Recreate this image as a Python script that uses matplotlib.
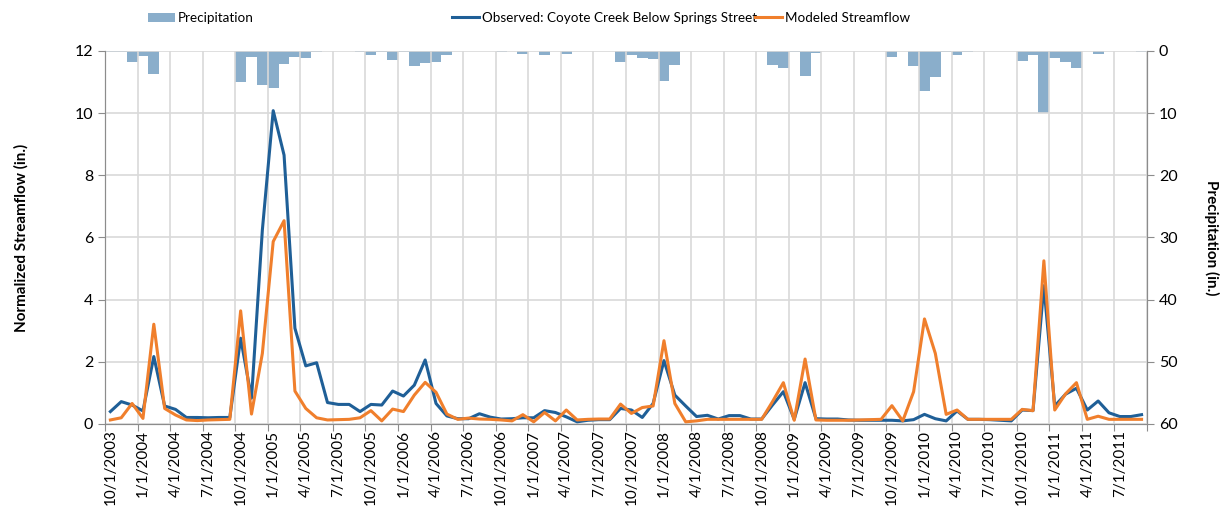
import numpy as np
import matplotlib
matplotlib.use('Agg')
import matplotlib.pyplot as plt
from matplotlib.patches import Patch
from matplotlib.lines import Line2D

plt.rcParams['font.family'] = ['Lato', 'DejaVu Sans']

#monthly values, 10/2003 - 9/2011
observed = [0.40, 0.72, 0.61, 0.42, 2.17, 0.58, 0.47, 0.21, 0.21, 0.20, 0.21, 0.21,
            2.76, 0.83, 6.24, 10.08, 8.65, 3.08, 1.87, 1.97, 0.69, 0.63, 0.63, 0.40,
            0.63, 0.61, 1.06, 0.90, 1.25, 2.06, 0.66, 0.26, 0.17, 0.17, 0.33, 0.22,
            0.16, 0.17, 0.20, 0.20, 0.43, 0.37, 0.23, 0.07, 0.12, 0.14, 0.14, 0.50,
            0.45, 0.21, 0.66, 2.04, 0.93, 0.58, 0.24, 0.28, 0.16, 0.27, 0.27, 0.16,
            0.16, 0.61, 1.04, 0.15, 1.33, 0.17, 0.16, 0.16, 0.13, 0.12, 0.12, 0.12,
            0.12, 0.10, 0.14, 0.31, 0.17, 0.10, 0.42, 0.15, 0.15, 0.14, 0.12, 0.10,
            0.45, 0.43, 4.45, 0.58, 0.96, 1.15, 0.45, 0.74, 0.36, 0.24, 0.24, 0.30]

modeled = [0.13, 0.20, 0.66, 0.18, 3.21, 0.50, 0.29, 0.13, 0.11, 0.13, 0.14, 0.15,
           3.64, 0.32, 2.27, 5.87, 6.54, 1.06, 0.50, 0.20, 0.13, 0.14, 0.15, 0.20,
           0.43, 0.10, 0.48, 0.40, 0.93, 1.34, 1.02, 0.32, 0.15, 0.19, 0.16, 0.15,
           0.13, 0.10, 0.30, 0.07, 0.37, 0.10, 0.45, 0.13, 0.15, 0.16, 0.16, 0.64,
           0.34, 0.53, 0.58, 2.68, 0.66, 0.07, 0.10, 0.15, 0.15, 0.15, 0.15, 0.15,
           0.15, 0.72, 1.33, 0.12, 2.09, 0.13, 0.12, 0.12, 0.12, 0.13, 0.14, 0.15,
           0.59, 0.10, 1.04, 3.38, 2.27, 0.31, 0.45, 0.15, 0.15, 0.15, 0.15, 0.15,
           0.47, 0.43, 5.25, 0.45, 0.97, 1.33, 0.15, 0.25, 0.15, 0.15, 0.15, 0.15]

precipitation = [0.1, 0.1, 1.8, 0.8, 3.7, 0, 0, 0, 0, 0, 0, 0,
                 5.0, 0.9, 5.5, 5.9, 2.1, 1.0, 1.2, 0.2, 0, 0, 0, 0.2,
                 0.7, 0.1, 1.45, 0.2, 2.4, 2.0, 1.8, 0.7, 0, 0, 0, 0,
                 0.2, 0, 0.5, 0, 0.7, 0, 0.5, 0, 0, 0, 0, 1.7,
                 0.7, 1.2, 1.3, 4.9, 2.25, 0, 0, 0, 0, 0, 0, 0,
                 0, 2.25, 2.8, 0.1, 4.1, 0.3, 0, 0, 0, 0, 0, 0,
                 1.0, 0, 2.4, 6.5, 4.2, 0.2, 0.7, 0.1, 0, 0, 0, 0,
                 1.55, 0.7, 9.9, 1.2, 1.7, 2.7, 0, 0.5, 0, 0, 0, 0.1]

tickLabels = ['10/1/2003', '1/1/2004', '4/1/2004', '7/1/2004',
              '10/1/2004', '1/1/2005', '4/1/2005', '7/1/2005',
              '10/1/2005', '1/1/2006', '4/1/2006', '7/1/2006',
              '10/1/2006', '1/1/2007', '4/1/2007', '7/1/2007',
              '10/1/2007', '1/1/2008', '4/1/2008', '7/1/2008',
              '10/1/2008', '1/1/2009', '4/1/2009', '7/1/2009',
              '10/1/2009', '1/1/2010', '4/1/2010', '7/1/2010',
              '10/1/2010', '1/1/2011', '4/1/2011', '7/1/2011']

blue = '#1f5f97'
orange = '#f07f2c'
barColor = '#8aaecb'
gridColor = '#d9d9d9'
axisColor = '#8c8c8c'

x = np.arange(len(observed))

fig = plt.figure(figsize=(12.32, 5.15), dpi=100)
ax = fig.add_axes([0.0852, 0.1767, 0.8458, 0.7243])
ax2 = ax.twinx()

#precipitation hangs from the top, on an inverted right axis
ax2.bar(x, precipitation, width=1.0, color=barColor, linewidth=0, zorder=1)
ax2.set_ylim(60, 0)
ax2.set_yticks(np.arange(0, 61, 10))

ax.plot(x, observed, color=blue, linewidth=2.2, zorder=3)
ax.plot(x, modeled, color=orange, linewidth=2.2, zorder=4)
ax.set_zorder(ax2.get_zorder() + 1)
ax.patch.set_visible(False)

ax.set_xlim(-0.5, len(x) - 0.5)
ax.set_ylim(0, 12)
ax.set_yticks(np.arange(0, 13, 2))

#gridlines/ticks at quarter boundaries, labels on the month
ax.set_xticks(np.arange(-0.5, len(x), 3))
ax.set_xticklabels([])
ax.set_xticks(np.arange(0, len(x), 3), minor=True)
ax.set_xticklabels(tickLabels, minor=True, rotation=90, fontsize=11)
ax.tick_params(axis='x', which='minor', length=0, pad=4)
ax.tick_params(axis='x', which='major', length=5, color=axisColor)
ax.tick_params(axis='y', length=5, color=axisColor, labelsize=11.5)
ax2.tick_params(axis='y', length=5, color=axisColor, labelsize=11.5)

ax.grid(True, which='major', color=gridColor, linewidth=1.2)
ax.set_axisbelow(True)

for a in [ax, ax2]:
    a.spines['top'].set_visible(False)
    for side in ['left', 'right', 'bottom']:
        a.spines[side].set_color(axisColor)

ax.set_ylabel('Normalized Streamflow (in.)', fontsize=11, fontweight='bold', labelpad=33)
ax2.set_ylabel('Precipitation (in.)', fontsize=11, fontweight='bold', rotation=270, labelpad=30)

#legend entries spread along the top
entries = [(Patch(facecolor=barColor), 'Precipitation', 0.120),
           (Line2D([], [], color=blue, linewidth=2.2), 'Observed: Coyote Creek Below Springs Street', 0.367),
           (Line2D([], [], color=orange, linewidth=2.2), 'Modeled Streamflow', 0.613)]
for handle, label, xpos in entries:
    fig.legend([handle], [label], loc='center left', bbox_to_anchor=(xpos, 0.965),
               frameon=False, fontsize=9.7, handlelength=2.0, handletextpad=0.2,
               borderpad=0, borderaxespad=0)

plt.savefig('out.png', dpi=100)
